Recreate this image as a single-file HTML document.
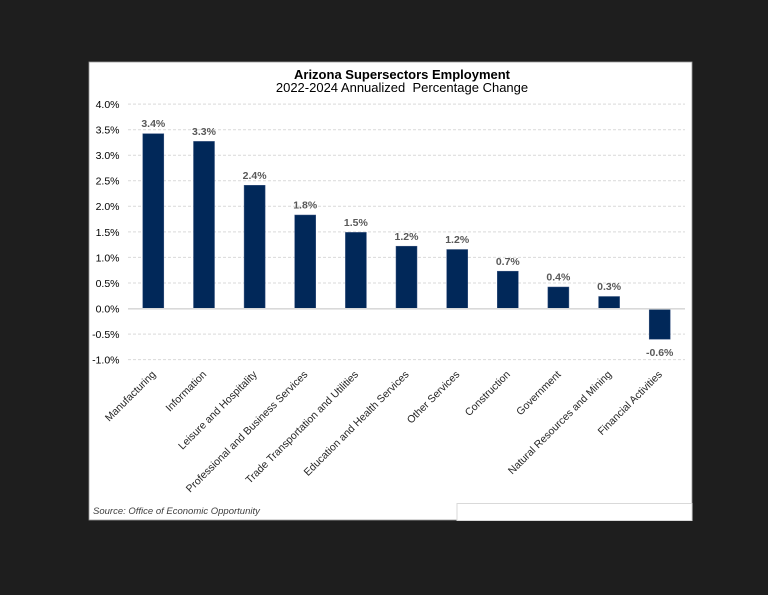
<!DOCTYPE html>
<html>
<head>
<meta charset="utf-8">
<style>
  html,body{margin:0;padding:0;background:#1e1e1e;}
  svg{display:block;}
  text{font-family:"Liberation Sans", Arial, sans-serif;}
</style>
</head>
<body>
<svg width="768" height="595" viewBox="0 0 768 595" xmlns="http://www.w3.org/2000/svg">
  <rect x="0" y="0" width="768" height="595" fill="#1e1e1e"/>
  <rect x="89" y="62" width="603" height="458" fill="#ffffff" stroke="#9a9a9a" stroke-width="0.8"/>

  <!-- Title -->
  <text x="402" y="79" text-anchor="middle" font-size="13" font-weight="bold" fill="#000">Arizona Supersectors Employment</text>
  <text x="402" y="92" text-anchor="middle" font-size="13" fill="#000" xml:space="preserve">2022-2024 Annualized  Percentage Change</text>

  <!-- Gridlines -->
  <g stroke="#d9d9d9" stroke-width="1" stroke-dasharray="3,2">
    <line x1="128" y1="104.1" x2="685" y2="104.1"/>
    <line x1="128" y1="129.7" x2="685" y2="129.7"/>
    <line x1="128" y1="155.2" x2="685" y2="155.2"/>
    <line x1="128" y1="180.8" x2="685" y2="180.8"/>
    <line x1="128" y1="206.3" x2="685" y2="206.3"/>
    <line x1="128" y1="231.9" x2="685" y2="231.9"/>
    <line x1="128" y1="257.4" x2="685" y2="257.4"/>
    <line x1="128" y1="283.0" x2="685" y2="283.0"/>
    <line x1="128" y1="334.1" x2="685" y2="334.1"/>
    <line x1="128" y1="359.6" x2="685" y2="359.6"/>
  </g>

  <!-- Y tick labels -->
  <g font-size="10.5" fill="#000" text-anchor="end">
    <text x="119.5" y="108">4.0%</text>
    <text x="119.5" y="133.6">3.5%</text>
    <text x="119.5" y="159.1">3.0%</text>
    <text x="119.5" y="184.7">2.5%</text>
    <text x="119.5" y="210.2">2.0%</text>
    <text x="119.5" y="235.8">1.5%</text>
    <text x="119.5" y="261.3">1.0%</text>
    <text x="119.5" y="286.9">0.5%</text>
    <text x="119.5" y="312.4">0.0%</text>
    <text x="119.5" y="338">-0.5%</text>
    <text x="119.5" y="363.5">-1.0%</text>
  </g>

  <!-- Bars -->
  <g fill="#012859" stroke="#3a5482" stroke-width="0.5">
    <rect x="142.8" y="133.7" width="21" height="174.8"/>
    <rect x="193.5" y="141.4" width="21" height="167.1"/>
    <rect x="244.1" y="185.3" width="21" height="123.2"/>
    <rect x="294.7" y="215.0" width="21" height="93.5"/>
    <rect x="345.4" y="232.4" width="21" height="76.1"/>
    <rect x="396.0" y="246.2" width="21" height="62.3"/>
    <rect x="446.7" y="249.5" width="21" height="59.0"/>
    <rect x="497.3" y="271.2" width="21" height="37.3"/>
    <rect x="547.9" y="287.0" width="21" height="21.5"/>
    <rect x="598.6" y="296.5" width="21" height="12.0"/>
    <rect x="649.2" y="308.5" width="21" height="30.7"/>
  </g>

  <!-- Zero line -->
  <line x1="128" y1="308.8" x2="685" y2="308.8" stroke="#d9d9d9" stroke-width="1.6"/>

  <!-- Value labels -->
  <g font-size="10.5" font-weight="bold" fill="#595959" text-anchor="middle">
    <text x="153.3" y="127">3.4%</text>
    <text x="204.0" y="135">3.3%</text>
    <text x="254.6" y="179">2.4%</text>
    <text x="305.2" y="208.5">1.8%</text>
    <text x="355.9" y="226">1.5%</text>
    <text x="406.5" y="240">1.2%</text>
    <text x="457.2" y="243">1.2%</text>
    <text x="507.8" y="265">0.7%</text>
    <text x="558.4" y="280.5">0.4%</text>
    <text x="609.1" y="290">0.3%</text>
    <text x="659.7" y="356">-0.6%</text>
  </g>

  <!-- Category labels -->
  <g font-size="10.5" fill="#262626" text-anchor="end">
    <text transform="translate(156.3,375) rotate(-45)">Manufacturing</text>
    <text transform="translate(207.0,375) rotate(-45)">Information</text>
    <text transform="translate(257.6,375) rotate(-45)">Leisure and Hospitality</text>
    <text transform="translate(308.2,375) rotate(-45)">Professional and Business Services</text>
    <text transform="translate(358.9,375) rotate(-45)">Trade Transportation and Utilities</text>
    <text transform="translate(409.5,375) rotate(-45)">Education and Health Services</text>
    <text transform="translate(460.2,375) rotate(-45)">Other Services</text>
    <text transform="translate(510.8,375) rotate(-45)">Construction</text>
    <text transform="translate(561.4,375) rotate(-45)">Government</text>
    <text transform="translate(612.1,375) rotate(-45)">Natural Resources and Mining</text>
    <text transform="translate(662.7,375) rotate(-45)">Financial Activities</text>
  </g>

  <!-- Source -->
  <text x="93" y="514" font-size="9.5" font-style="italic" fill="#404040">Source: Office of Economic Opportunity</text>

  <!-- Bottom-right box -->
  <rect x="457" y="503.5" width="235" height="17" fill="#ffffff" stroke="#d9d9d9" stroke-width="1"/>
</svg>
</body>
</html>
